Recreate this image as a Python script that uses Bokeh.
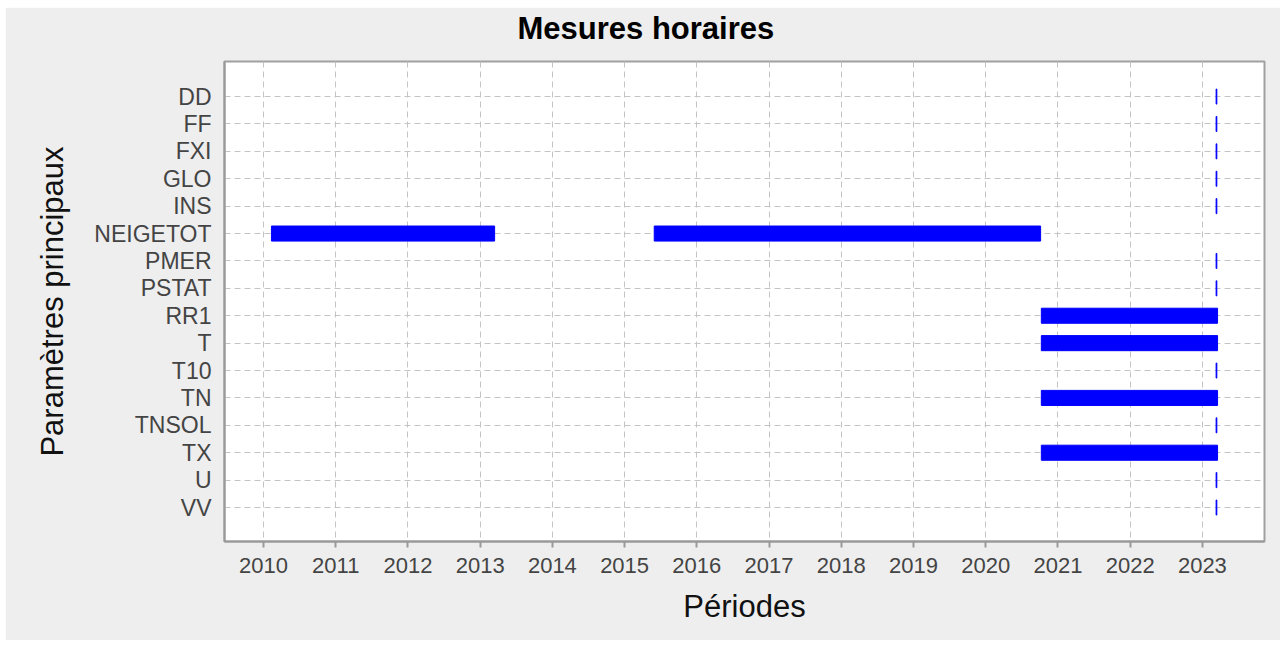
from bokeh.plotting import figure
from bokeh.models import ColumnDataSource, Range1d, FixedTicker, Title
from bokeh.embed import file_html
from bokeh.resources import INLINE

# ---- data ----
params = ["DD", "FF", "FXI", "GLO", "INS", "NEIGETOT", "PMER", "PSTAT",
          "RR1", "T", "T10", "TN", "TNSOL", "TX", "U", "VV"]
seg_param = ["DD", "FF", "FXI", "GLO", "INS", "NEIGETOT", "NEIGETOT", "PMER",
             "PSTAT", "RR1", "T", "T10", "TN", "TNSOL", "TX", "U", "VV"]
seg_start = [2023.19, 2023.19, 2023.19, 2023.19, 2023.19, 2010.11, 2015.41, 2023.19,
             2023.19, 2020.77, 2020.77, 2023.19, 2020.77, 2023.19, 2020.77, 2023.19, 2023.19]
seg_end = [2023.20, 2023.20, 2023.20, 2023.20, 2023.20, 2013.20, 2020.76, 2023.20,
           2023.20, 2023.21, 2023.21, 2023.20, 2023.21, 2023.20, 2023.21, 2023.20, 2023.20]
years = list(range(2010, 2024))

FONT = "Liberation Sans"

pos = {p: i for i, p in enumerate(params)}
src = ColumnDataSource(dict(
    y=[pos[p] for p in seg_param],
    left=seg_start,
    right=seg_end,
))

p = figure(width=1275, height=633, output_backend="svg", toolbar_location=None,
           title="Mesures horaires",
           x_range=Range1d(2009.46, 2023.86), y_range=Range1d(16.24, -1.28),
           min_border_left=219, min_border_right=16, min_border_top=54, min_border_bottom=99)
p.margin = (7, 6, 6, 5)

p.border_fill_color = "#eeeeee"
p.background_fill_color = "white"
p.outline_line_color = "#a0a0a0"
p.outline_line_width = 2

p.title.align = "left"
p.title.offset = 293
p.title.text_font = FONT
p.title.text_font_size = "31px"
p.title.text_font_style = "bold"
p.title.text_color = "black"
p.title.standoff = 0

# thin invisible spacer between the title and the frame
p.add_layout(Title(text=" ", text_font_size="1px", standoff=13), "above")

p.hbar(y="y", left="left", right="right", height=0.55, source=src,
       fill_color="blue", line_color="blue", line_width=1)

# x axis
p.xaxis.ticker = FixedTicker(ticks=years)
p.xaxis.axis_label = "Périodes"
p.xaxis.axis_label_text_font = FONT
p.xaxis.axis_label_text_font_size = "31px"
p.xaxis.axis_label_text_font_style = "normal"
p.xaxis.axis_label_text_color = "#111111"
p.xaxis.axis_label_standoff = 13
p.xaxis.major_label_text_font = FONT
p.xaxis.major_label_text_font_size = "22px"
p.xaxis.major_label_text_color = "#444444"
p.xaxis.major_label_standoff = 10
p.xaxis.major_tick_out = 6
p.xaxis.major_tick_in = 0
p.xaxis.major_tick_line_color = "#999999"
p.xaxis.major_tick_line_width = 2
p.xaxis.minor_tick_line_color = None
p.xaxis.axis_line_color = "#999999"
p.xaxis.axis_line_width = 2

# y axis
p.yaxis.ticker = FixedTicker(ticks=list(range(len(params))))
p.yaxis.major_label_overrides = {i: name for i, name in enumerate(params)}
p.yaxis.axis_label = "Paramètres principaux"
p.yaxis.axis_label_text_font = FONT
p.yaxis.axis_label_text_font_size = "31px"
p.yaxis.axis_label_text_font_style = "normal"
p.yaxis.axis_label_text_color = "#111111"
p.yaxis.axis_label_standoff = 21
p.yaxis.major_label_text_font = FONT
p.yaxis.major_label_text_font_size = "23px"
p.yaxis.major_label_text_color = "#444444"
p.yaxis.major_label_standoff = 13
p.yaxis.major_tick_out = 0
p.yaxis.major_tick_in = 0
p.yaxis.minor_tick_line_color = None
p.yaxis.axis_line_color = "#999999"
p.yaxis.axis_line_width = 2

# grid
for g in (p.xgrid, p.ygrid):
    g.grid_line_color = "#c4c4c4"
    g.grid_line_dash = "6 4"
    g.grid_line_width = 1

open("out.html", "w").write(file_html(p, INLINE))
